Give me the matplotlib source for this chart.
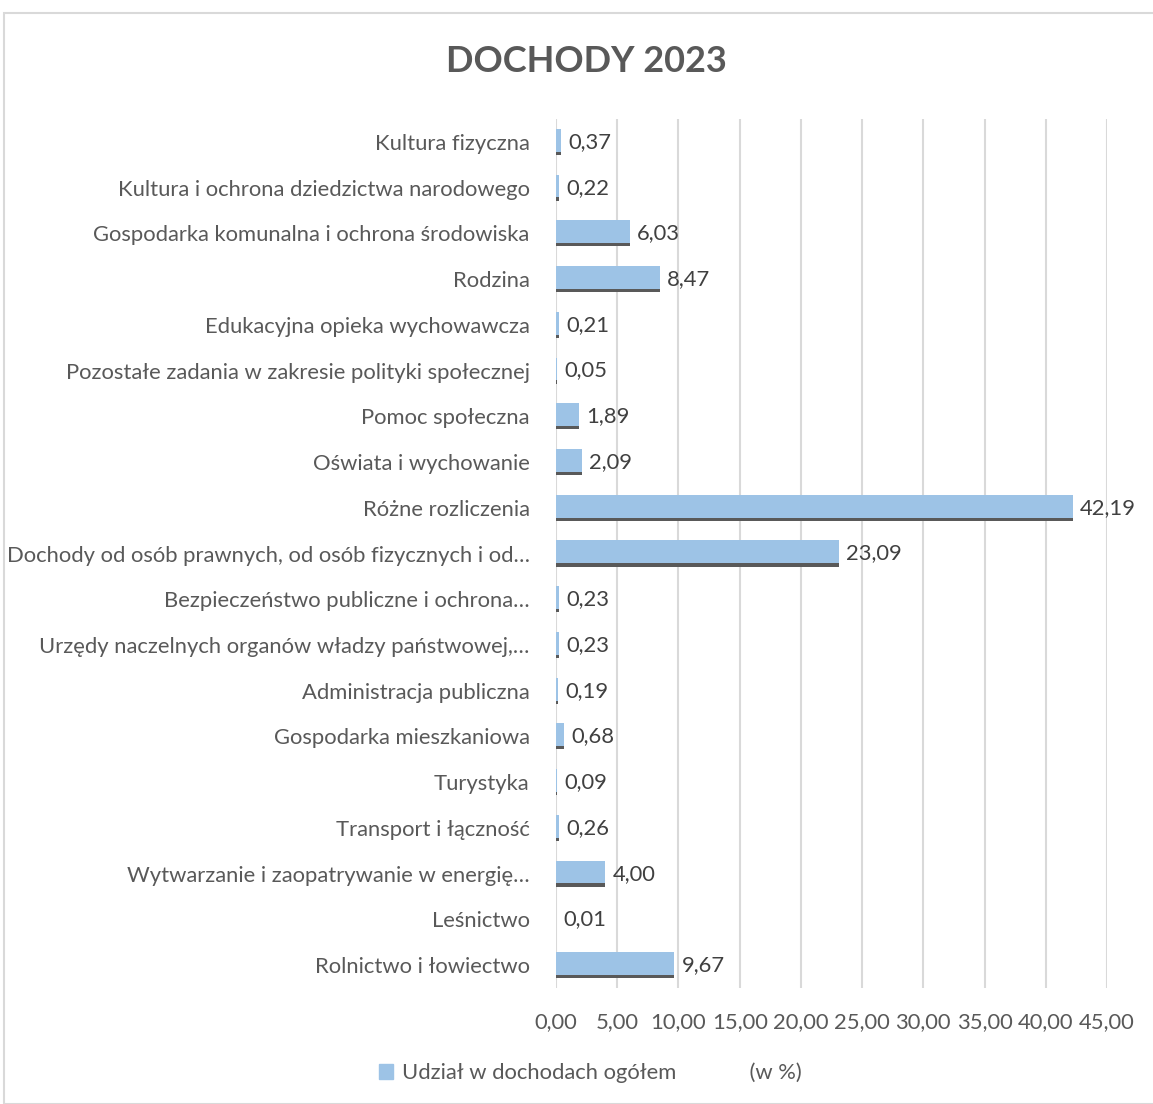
import matplotlib
matplotlib.use("Agg")
import matplotlib.pyplot as plt
from matplotlib.patches import Rectangle, Patch

plt.rcParams['font.family'] = ['Lato', 'DejaVu Sans']

categories = [
    "Kultura fizyczna",
    "Kultura i ochrona dziedzictwa narodowego",
    "Gospodarka komunalna i ochrona środowiska",
    "Rodzina",
    "Edukacyjna opieka wychowawcza",
    "Pozostałe zadania w zakresie polityki społecznej",
    "Pomoc społeczna",
    "Oświata i wychowanie",
    "Różne rozliczenia",
    "Dochody od osób prawnych, od osób fizycznych i od…",
    "Bezpieczeństwo publiczne i ochrona…",
    "Urzędy naczelnych organów władzy państwowej,…",
    "Administracja publiczna",
    "Gospodarka mieszkaniowa",
    "Turystyka",
    "Transport i łączność",
    "Wytwarzanie i zaopatrywanie w energię…",
    "Leśnictwo",
    "Rolnictwo i łowiectwo",
]
values = [0.37, 0.22, 6.03, 8.47, 0.21, 0.05, 1.89, 2.09, 42.19, 23.09,
          0.23, 0.23, 0.19, 0.68, 0.09, 0.26, 4.00, 0.01, 9.67]
xticks = [0, 5, 10, 15, 20, 25, 30, 35, 40, 45]

blue = '#9DC3E6'
shadow = '#595959'
grey = '#595959'
fs = 15.8

fig = plt.figure(figsize=(11.53, 11.04), dpi=100)
W, H = 1153, 1104
ax = fig.add_axes([556 / W, 1 - 988 / H, (1107 - 556) / W, (988 - 119) / H])

# ramka wykresu
fig.patches.append(Rectangle((4 / W, 0), 1.2, 1 - 13 / H, transform=fig.transFigure,
                             fill=False, edgecolor='#D9D9D9', linewidth=1.5))

n = len(categories)
ypos = list(range(n))[::-1]
ax.barh(ypos, values, height=0.57, color=shadow, left=0)
ax.barh([y + 0.035 for y in ypos], values, height=0.50, color=blue)

for y, v in zip(ypos, values):
    ax.text(v + 0.6, y, f"{v:.2f}".replace('.', ','), va='center', ha='left',
            fontsize=fs, color='#404040')

ax.set_xlim(0, 45)
ax.set_ylim(-0.5, n - 0.5)
ax.set_xticks(xticks)
ax.set_xticklabels([f"{t:.2f}".replace('.', ',') for t in xticks], fontsize=fs, color=grey)
ax.set_yticks(ypos)
ax.set_yticklabels(categories, fontsize=fs, color=grey)
ax.tick_params(axis='both', length=0)
ax.tick_params(axis='y', pad=19)
ax.tick_params(axis='x', pad=17)
ax.xaxis.grid(True, color='#D9D9D9', linewidth=1.5)
ax.set_axisbelow(True)
for s in ax.spines.values():
    s.set_visible(False)

fig.text(586 / W, 1 - 62 / H, "DOCHODY 2023", ha='center', va='center',
         fontsize=26, fontweight='bold', color=grey)

fig.legend(handles=[Patch(color=blue)], labels=["Udział w dochodach ogółem             (w %)"],
           loc='center', bbox_to_anchor=(590 / W, 1 - 1073 / H), frameon=False,
           fontsize=fs, labelcolor=grey, handlelength=0.65, handleheight=0.65, handletextpad=0.4)

fig.savefig("out.png", dpi=100)
